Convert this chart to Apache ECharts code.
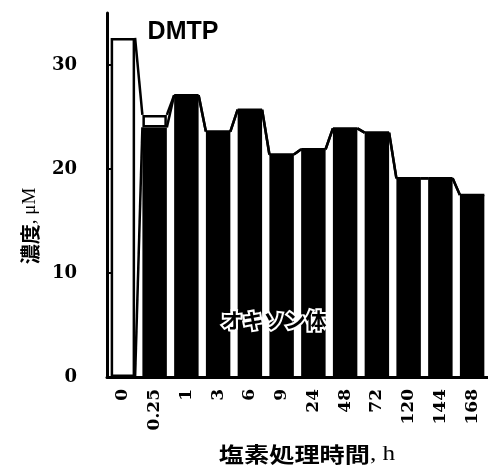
<!DOCTYPE html>
<html>
<head>
<meta charset="utf-8">
<script src="https://cdn.jsdelivr.net/npm/echarts@6/dist/echarts.min.js"></script>
<style>
  html, body { margin: 0; padding: 0; background: #fff; }
  #chart { width: 488px; height: 467px; }
</style>
</head>
<body>
<div id="chart"></div>
<script>
// 塩素処理時間 (h)
const categories = ['0', '0.25', '1', '3', '6', '9', '24', '48', '72', '120', '144', '168'];
// オキソン体 (µM)
const oxonValues = [0, 24.0, 27.1, 23.6, 25.7, 21.4, 21.9, 23.9, 23.5, 19.1, 19.1, 17.5];
// DMTP (µM)
const dmtpValues = [32.6, 1.2, 0, 0, 0, 0, 0, 0, 0, 0, 0, 0];
const yTicks = [0, 10, 20, 30];

const BAR_RATIO = 0.77;

// series lines (bar corner to next bar corner), like the original spreadsheet chart
const totalValues = oxonValues.map((v, i) => v + dmtpValues[i]);
const seriesLineData = [];
for (let i = 0; i < categories.length - 1; i++) {
  seriesLineData.push([i, oxonValues[i], oxonValues[i + 1]]);
  seriesLineData.push([i, totalValues[i], totalValues[i + 1]]);
}

const chart = echarts.init(document.getElementById('chart'));

const serif = 'DejaVu Serif';
const cjk = 'Noto Sans CJK JP';

const option = {
  animation: false,
  grid: { left: 107, right: -1, top: 13, bottom: 90 },
  xAxis: {
    type: 'category',
    data: categories,
    axisLine: { lineStyle: { color: '#000', width: 3 } },
    axisTick: { inside: true, length: 4, lineStyle: { color: '#000', width: 2 } },
    axisLabel: {
      rotate: 90,
      margin: 12,
      color: '#000',
      fontFamily: serif,
      fontWeight: 'bold',
      fontSize: 17
    }
  },
  yAxis: {
    type: 'value',
    min: 0,
    max: 35,
    interval: 10,
    splitLine: { show: false },
    axisLine: { show: true, lineStyle: { color: '#000', width: 3 } },
    axisTick: { show: true, inside: true, length: 5, customValues: yTicks, lineStyle: { color: '#000', width: 2 } },
    axisLabel: {
      customValues: yTicks,
      margin: 30,
      color: '#000',
      fontFamily: serif,
      fontWeight: 'bold',
      fontSize: 18
    }
  },
  series: [
    {
      name: 'オキソン体',
      type: 'bar',
      stack: 'total',
      barWidth: (BAR_RATIO * 100) + '%',
      data: oxonValues,
      itemStyle: { color: '#000', borderColor: '#000', borderWidth: 2 }
    },
    {
      name: 'DMTP',
      type: 'bar',
      stack: 'total',
      data: dmtpValues,
      itemStyle: { color: '#fff', borderColor: '#000', borderWidth: 2.5 }
    },
    {
      type: 'custom',
      z: 5,
      data: seriesLineData,
      encode: { x: 0, y: [1, 2] },
      renderItem: function (params, api) {
        const i = api.value(0);
        const p1 = api.coord([i, api.value(1)]);
        const p2 = api.coord([i + 1, api.value(2)]);
        const half = api.size([1, 0])[0] * BAR_RATIO / 2;
        return {
          type: 'line',
          shape: { x1: p1[0] + half, y1: p1[1], x2: p2[0] - half, y2: p2[1] },
          style: { stroke: '#000', lineWidth: 2.5 }
        };
      }
    }
  ],
  graphic: [
    {
      type: 'text',
      x: 183, y: 32,
      style: {
        text: 'DMTP',
        font: 'bold 25px "Liberation Sans"',
        fill: '#000',
        align: 'center',
        verticalAlign: 'middle'
      }
    },
    {
      type: 'text',
      x: 274, y: 320,
      z: 10,
      style: {
        text: 'オキソン体',
        font: 'bold 21px "Noto Sans CJK JP"',
        fill: '#000',
        stroke: '#fff',
        lineWidth: 4,
        shadowBlur: 5,
        shadowColor: '#fff',
        align: 'center',
        verticalAlign: 'middle'
      }
    },
    {
      type: 'text',
      x: 30, y: 226,
      rotation: Math.PI / 2,
      style: {
        text: '{a|濃度}{b|, μM}',
        align: 'center',
        verticalAlign: 'middle',
        rich: {
          a: { fontFamily: cjk, fontWeight: 'bold', fontSize: 20, fill: '#000' },
          b: { fontFamily: 'Liberation Serif', fontSize: 19, fill: '#000' }
        }
      }
    },
    {
      type: 'text',
      x: 307, y: 454,
      scaleX: 1.2,
      style: {
        text: '{a|塩素処理時間}{b|, h}',
        align: 'center',
        verticalAlign: 'middle',
        rich: {
          a: { fontFamily: cjk, fontWeight: 'bold', fontSize: 21, fill: '#000' },
          b: { fontFamily: 'Liberation Serif', fontSize: 21, fill: '#000' }
        }
      }
    }
  ]
};

chart.setOption(option);
</script>
</body>
</html>
